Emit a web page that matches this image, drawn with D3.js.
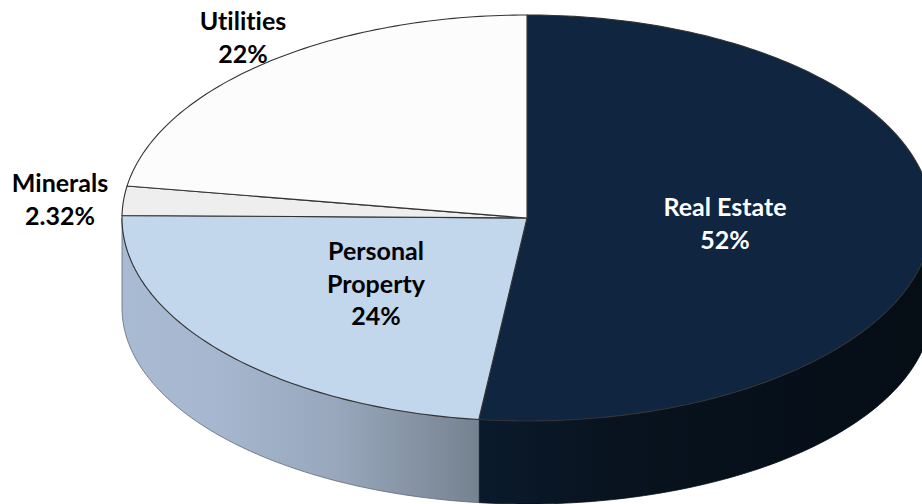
<!DOCTYPE html>
<html>
<head>
<meta charset="utf-8">
<script src="https://d3js.org/d3.v7.min.js"></script>
<style>
  html, body { margin: 0; padding: 0; background: #fff; overflow: hidden; }
  svg { display: block; }
  text { font-family: Lato, "Open Sans", sans-serif; font-weight: 700; font-size: 25px; text-anchor: middle; font-variant-ligatures: none; }
</style>
</head>
<body>
<svg width="922" height="504"></svg>
<script>
// Slices, clockwise from 12 o'clock
const categories = ["Real Estate", "Personal Property", "Minerals", "Utilities"];
const shares = [51.9, 23.3, 2.32, 22.48];
const shareLabels = ["52%", "24%", "2.32%", "22%"];

const topColors = ["#0f2540", "#c2d6ec", "#eeeeee", "#fcfcfc"];

const width = 922, height = 504;
const cx = 527, cy = 218, rx = 405, ry = 203;
// bottom rim is a slightly flatter ellipse, the chart has some perspective
const bottomCy = 308, bottomRy = 196;

const svg = d3.select("svg");

// Unit circle coordinates -> page pixels (the tilted pie is just a squashed circle)
const x = d3.scaleLinear().domain([-1, 1]).range([cx - rx, cx + rx]);
const y = d3.scaleLinear().domain([-1, 1]).range([cy - ry, cy + ry]);
const yBottom = d3.scaleLinear().domain([-1, 1]).range([bottomCy - bottomRy, bottomCy + bottomRy]);

const pie = d3.pie().sort(null).value(d => d);
const arcs = pie(shares);

// Points along the rim, angle measured clockwise from the top
function rim(a0, a1, yScale) {
    const n = Math.max(2, Math.ceil(Math.abs(a1 - a0) * 60));
    return d3.range(n + 1).map(i => {
        const a = a0 + (a1 - a0) * i / n;
        return [x(Math.sin(a)), yScale(-Math.cos(a))];
    });
}

const line = d3.line();

// Side wall gradients
const defs = svg.append("defs");
const grads = [
    { id: "sideDark", x1: 480, x2: 932, stops: [[0, "#0b1a2b"], [0.3, "#08131f"], [1, "#050d15"]] },
    { id: "sideLight", x1: 122, x2: 480, stops: [[0, "#a9bad3"], [0.25, "#a6b7cf"], [0.6, "#98a7bc"], [1, "#75828f"]] }
];
grads.forEach(g => {
    const lg = defs.append("linearGradient")
        .attr("id", g.id)
        .attr("gradientUnits", "userSpaceOnUse")
        .attr("x1", g.x1).attr("x2", g.x2).attr("y1", 0).attr("y2", 0);
    g.stops.forEach(s => lg.append("stop").attr("offset", s[0]).attr("stop-color", s[1]));
});

// Side wall, only the front half of the rim shows
const front = [Math.PI / 2, 3 * Math.PI / 2];
[0, 1].forEach(i => {
    const a0 = Math.max(arcs[i].startAngle, front[0]);
    const a1 = Math.min(arcs[i].endAngle, front[1]);
    const pts = rim(a0, a1, y).concat(rim(a1, a0, yBottom));
    svg.append("path")
        .attr("d", line(pts) + "Z")
        .attr("fill", `url(#${grads[i].id})`)
        .attr("stroke", i === 0 ? "#050c14" : "#5f6b78")
        .attr("stroke-width", 0.8);
});

// Top face
svg.append("g").selectAll("path")
    .data(arcs)
    .enter().append("path")
    .attr("d", d => line([[cx, cy]].concat(rim(d.startAngle, d.endAngle, y))) + "Z")
    .attr("fill", (d, i) => topColors[i])
    .attr("stroke", "#333")
    .attr("stroke-width", 1.1)
    .attr("stroke-linejoin", "round");

// Labels
const labelLines = [
    { lines: ["Real Estate", shareLabels[0]], px: 725, py: 216, fill: "#fff" },
    { lines: ["Personal", "Property", shareLabels[1]], px: 376, py: 260, fill: "#000" },
    { lines: [categories[2], shareLabels[2]], px: 60, py: 192, fill: "#000" },
    { lines: [categories[3], shareLabels[3]], px: 243, py: 30, fill: "#000" }
];
labelLines.forEach(l => {
    const t = svg.append("text").attr("fill", l.fill);
    l.lines.forEach((s, i) => {
        t.append("tspan").attr("x", l.px).attr("y", l.py + i * 32.5).text(s);
    });
});
</script>
</body>
</html>
